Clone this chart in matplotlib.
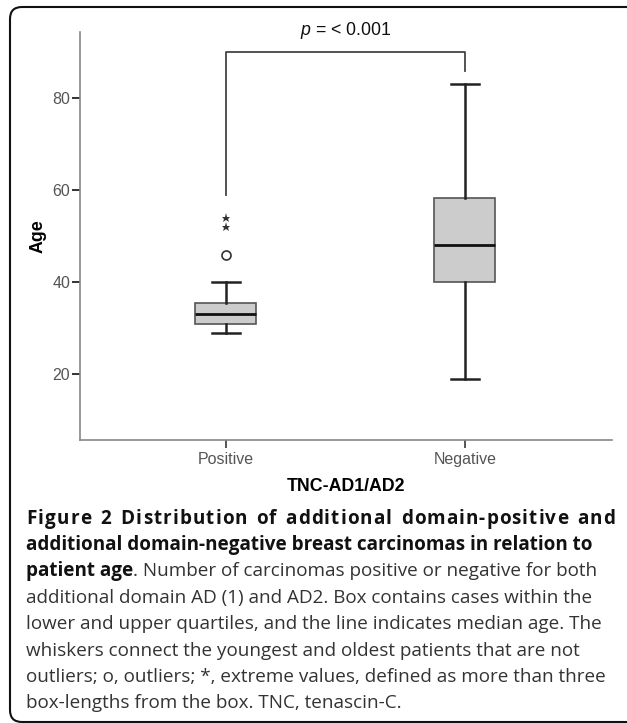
import numpy as np
import matplotlib
matplotlib.use('Agg')
from matplotlib import pyplot as plt
from matplotlib.patches import FancyBboxPatch
from matplotlib.transforms import IdentityTransform

## Data (age, years)
groups = ['Positive', 'Negative']
whisker_low = [29, 19]
quartile_1 = [31, 40]
medians = [33, 48]
quartile_3 = [35.4, 58.4]
whisker_high = [40, 83]
outliers = [[46], []]            ## o, outliers
extremes = [[52, 54], []]        ## *, extreme values
yticks = [20, 40, 60, 80]

bracket_top = 90
bracket_legs = [59, 86]
p_label = r'$p$ = < 0.001'

caption_lines = [
    [('Figure 2 Distribution of additional domain-positive and', 'bold')],
    [('additional domain-negative breast carcinomas in relation to', 'bold')],
    [('patient age', 'bold'), ('. Number of carcinomas positive or negative for both', 'normal')],
    [('additional domain AD (1) and AD2. Box contains cases within the', 'normal')],
    [('lower and upper quartiles, and the line indicates median age. The', 'normal')],
    [('whiskers connect the youngest and oldest patients that are not', 'normal')],
    [('outliers; o, outliers; *, extreme values, defined as more than three', 'normal')],
    [('box-lengths from the box. TNC, tenascin-C.', 'normal')],
]

plt.rcParams['font.family'] = ['Liberation Sans', 'DejaVu Sans']
plt.rcParams['mathtext.fontset'] = 'custom'
plt.rcParams['mathtext.it'] = 'Liberation Sans:italic'
plt.rcParams['mathtext.rm'] = 'Liberation Sans'

W, H = 627, 723
fig = plt.figure(figsize=(W/100., H/100.), dpi=100)
ax = fig.add_axes([80./W, 1-440./H, 532./W, 408./H])

## Box plot from the summary statistics
positions = np.arange(len(groups))
stats = []
for i in range(len(groups)):
    stats.append(dict(med=medians[i], q1=quartile_1[i], q3=quartile_3[i],
                      whislo=whisker_low[i], whishi=whisker_high[i], fliers=[]))
ax.bxp(stats, positions=positions, widths=0.255, capwidths=0.12,
       showfliers=False, patch_artist=True,
       boxprops=dict(facecolor='#cccccc', edgecolor='#555555', linewidth=1.2),
       medianprops=dict(color='#111111', linewidth=2),
       whiskerprops=dict(color='#222222', linewidth=1.8),
       capprops=dict(color='#222222', linewidth=1.8))

for i in range(len(groups)):
    if outliers[i]:
        ax.plot([positions[i]]*len(outliers[i]), outliers[i], 'o', ms=6.5,
                mfc='white', mec='#333333', mew=1.2)
    if extremes[i]:
        ax.plot([positions[i]]*len(extremes[i]), extremes[i], '*', ms=6.5,
                color='#333333', mew=0)

## Significance bracket
ax.plot([positions[0], positions[0], positions[1], positions[1]],
        [bracket_legs[0], bracket_top, bracket_top, bracket_legs[1]],
        color='#444444', lw=1.3, clip_on=False)
ax.text(positions.mean(), 94.7, p_label, ha='center', va='center', fontsize=12.8,
        color='#111111')

ax.set_xlim(-0.61, 1.615)
ax.set_ylim(5.7, 94.4)
ax.set_xticks(positions)
ax.set_xticklabels(groups)
ax.set_yticks(yticks)
for side in ['top', 'right']:
    ax.spines[side].set_visible(False)
for side in ['left', 'bottom']:
    ax.spines[side].set_color('#888888')
    ax.spines[side].set_linewidth(1.2)
ax.tick_params(axis='y', direction='out', length=6, width=1.4, color='#333333',
               labelcolor='#555555', labelsize=11.5, pad=1)
ax.tick_params(axis='x', direction='out', length=6, width=1.4, color='#555555',
               labelcolor='#555555', labelsize=11.5, pad=3)

ax.set_ylabel('Age', fontsize=12.8, fontweight='bold')
ax.yaxis.label.set_verticalalignment('center')
ax.yaxis.set_label_coords(-0.079, 0.5)
ax.set_xlabel('TNC-AD1/AD2', fontsize=12.8, fontweight='bold')
ax.xaxis.label.set_verticalalignment('center')
ax.xaxis.set_label_coords(0.5, -0.115)

## Rounded frame round the whole figure (right and bottom edges run off)
frame = FancyBboxPatch((10, 1), 660, 715, boxstyle='round,pad=0,rounding_size=12',
                       transform=IdentityTransform(), fill=False,
                       edgecolor='#111111', linewidth=1.5)
fig.add_artist(frame)

## Caption, drawn run by run so bold and normal text share a line
renderer = fig.canvas.get_renderer()
cap_size = 13.6
cap_font = 'Open Sans'

def text_width(s, weight):
    t = fig.text(0, 0, s, fontsize=cap_size, family=cap_font, fontweight=weight)
    w = t.get_window_extent(renderer).width
    t.remove()
    return w

def advance(c, weight):
    ## width of a run including its side bearings
    return text_width('x' + c + 'x', weight) - text_width('xx', weight)

def draw_caption_line(runs, x0, ytop):
    x = x0
    for text, weight in runs:
        col = '#111111' if weight == 'bold' else '#333333'
        fig.text(x/W, 1 - ytop/H, text, fontsize=cap_size, family=cap_font,
                 fontweight=weight, color=col, va='center', ha='left')
        x += advance(text, weight)

def draw_tracked_line(text, weight, x0, ytop, right):
    ## justified line: spread the extra room over letters, a bit more at spaces
    chars = list(text)
    adv = [advance(c, weight) for c in chars]
    n_space = chars.count(' ')
    n_gaps = len(chars) - 1
    unit = (right - x0 - sum(adv)) / (n_gaps + 2.0*n_space)
    x = x0
    for c, a in zip(chars, adv):
        if c != ' ':
            fig.text(x/W, 1 - ytop/H, c, fontsize=cap_size, family=cap_font,
                     fontweight=weight, color='#111111', va='center', ha='left')
        x += a + unit*(3.0 if c == ' ' else 1.0)

line_y = [519, 545, 571, 598, 624, 651, 677, 703]
for n, runs in enumerate(caption_lines):
    if n == 0:
        draw_tracked_line(runs[0][0], runs[0][1], 26, line_y[n], 615)
    else:
        draw_caption_line(runs, 26, line_y[n])

fig.savefig('out.png', dpi=100)
